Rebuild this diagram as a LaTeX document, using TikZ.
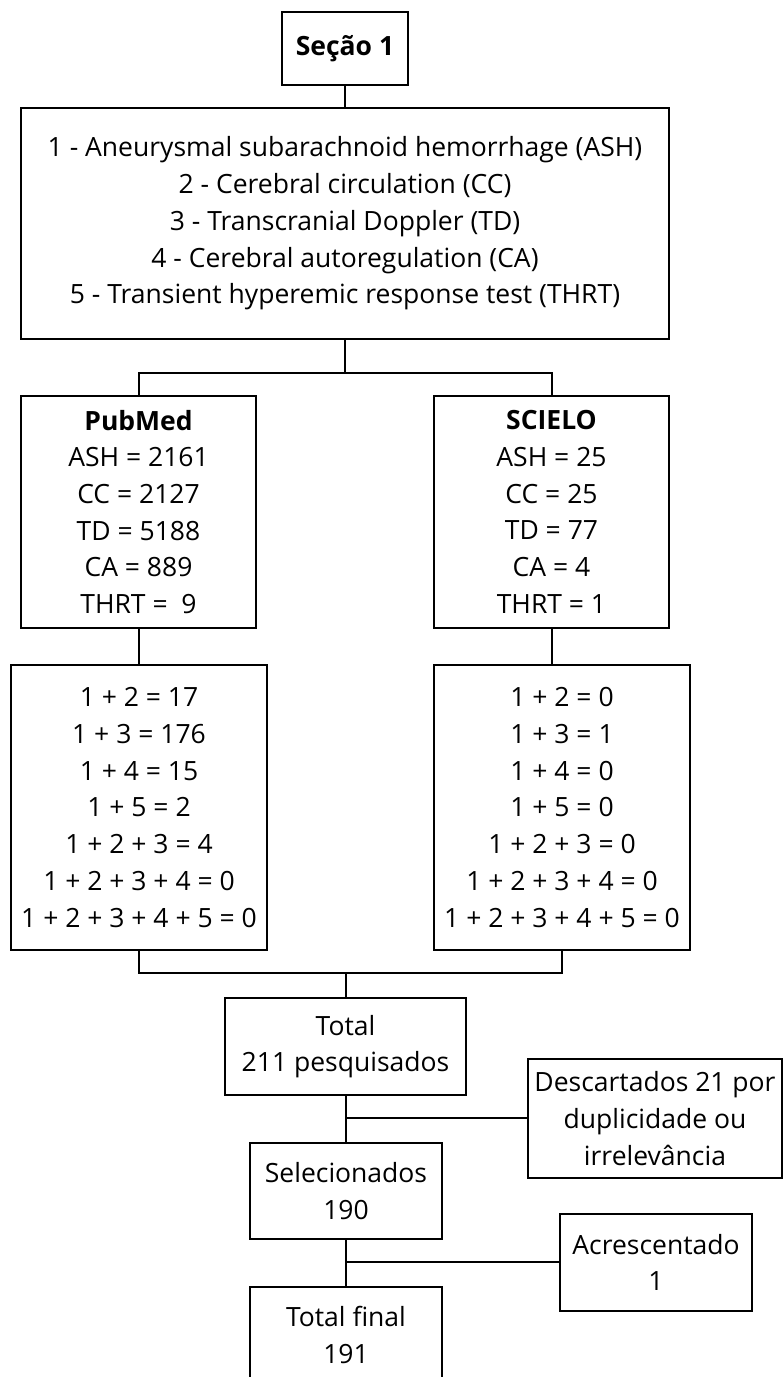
\documentclass[tikz,border=0pt]{standalone}
\usepackage{fontspec}
\setmainfont{Open Sans}
\usetikzlibrary{positioning}
\tikzset{
  box/.style={draw=black, line width=2pt, fill=white, align=center,
    inner sep=0pt},
  conn/.style={line width=2pt, black},
}

\begin{document}
\begin{tikzpicture}[x=1pt, y=-1pt, font=\fontsize{26.5}{36.7}\selectfont]
    \clip (0,0) rectangle (784,1377);
    \fill[white] (0,0) rectangle (784,1377);
    \node[box, minimum width=126pt, minimum height=73pt] (sec) at (345,48.5) {\textbf{Seção 1}};
    \node[box, minimum width=648pt, minimum height=231pt] (terms) at (345,223.5)
      {1 - Aneurysmal subarachnoid hemorrhage (ASH)\\2 - Cerebral circulation (CC)\\3 - Transcranial Doppler (TD)\\4 - Cerebral autoregulation (CA)\\5 - Transient hyperemic response test (THRT)};
    \node[box, minimum width=235pt, minimum height=232pt] (pubmed) at (138.5,512)
      {\textbf{PubMed}\\ASH = 2161\\CC = 2127\\TD = 5188\\CA = 889\\THRT = \ 9};
    \node[box, minimum width=235pt, minimum height=232pt] (scielo) at (551.5,512)
      {\textbf{SCIELO}\\ASH = 25\\CC = 25\\TD = 77\\CA = 4\\THRT = 1};
    \node[box, minimum width=256pt, minimum height=285pt] (pubcomb) at (139,807.5)
      {1 + 2 = 17\\1 + 3 = 176\\1 + 4 = 15\\1 + 5 = 2\\1 + 2 + 3 = 4\\1 + 2 + 3 + 4 = 0\\1 + 2 + 3 + 4 + 5 = 0};
    \node[box, minimum width=256pt, minimum height=285pt] (scicomb) at (562,807.5)
      {1 + 2 = 0\\1 + 3 = 1\\1 + 4 = 0\\1 + 5 = 0\\1 + 2 + 3 = 0\\1 + 2 + 3 + 4 = 0\\1 + 2 + 3 + 4 + 5 = 0};
    \node[box, minimum width=241pt, minimum height=97pt] (total) at (345.5,1046.5) {Total\\211 pesquisados};
    \node[box, minimum width=254pt, minimum height=119pt] (desc) at (655,1118.5)
      {Descartados 21 por\\duplicidade ou\\irrelevância};
    \node[box, minimum width=192pt, minimum height=96pt] (sel) at (346,1191) {Selecionados\\190};
    \node[box, minimum width=192pt, minimum height=97pt] (acr) at (656,1262.5) {Acrescentado\\1};
    \node[box, minimum width=192pt, minimum height=96pt] (final) at (346,1335) {Total final\\191};
    \coordinate (split) at (345,373);
    \coordinate (merge) at (346,973);
    \coordinate (cut) at (346,1118);
    \coordinate (add) at (346,1262);
    \draw[conn] (sec) -- (terms);
    \draw[conn] (terms.south) -- (split);
    \draw[conn] (pubmed.north) |- (split) -| (scielo.north);
    \draw[conn] (pubmed.south) -- (pubcomb.north -| pubmed.south);
    \draw[conn] (scielo.south) -- (pubcomb.north -| scielo.south);
    \draw[conn] (pubcomb.south) |- (merge) -| (scicomb.south);
    \draw[conn] (merge) -- (total.north -| merge);
    \draw[conn] (total.south -| sel.north) -- (sel.north);
    \draw[conn] (cut) -- (cut -| desc.west);
    \draw[conn] (sel.south) -- (final.north);
    \draw[conn] (add) -- (add -| acr.west);
  \end{tikzpicture}
\end{document}
